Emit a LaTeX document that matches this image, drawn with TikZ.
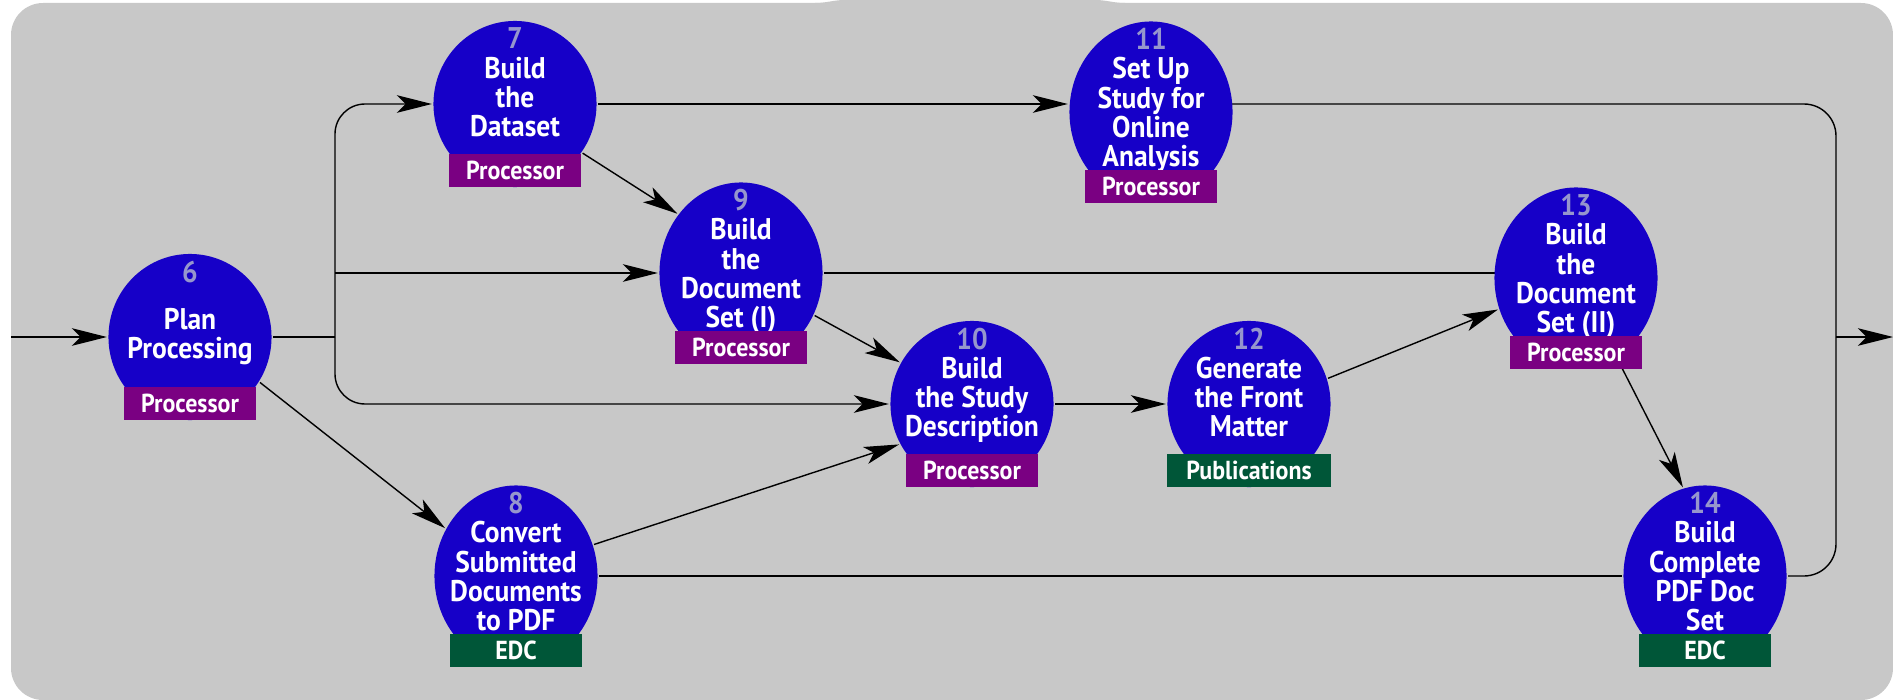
\documentclass[tikz,border=0pt]{standalone}
\usepackage{fontspec}
\newfontfamily\taskfont{PT Sans}[FakeStretch=0.92]
\usetikzlibrary{shapes.geometric,arrows.meta}

\definecolor{taskblue}{RGB}{22,0,200}
\definecolor{rolepurple}{RGB}{122,0,130}
\definecolor{rolegreen}{RGB}{0,86,56}
\definecolor{panelgrey}{RGB}{200,200,200}
\definecolor{numgrey}{RGB}{150,150,205}

\pgfdeclarelayer{background}
\pgfsetlayers{background,main}

\newcommand\stepnum[1]{{\color{numgrey}#1}}

\tikzset{
  task/.style={ellipse, fill=taskblue, inner sep=0pt, minimum width=1.63cm, minimum height=1.66cm},
  tasktall/.style={task, minimum height=1.81cm},
  tasktext/.style={anchor=north, yshift=-0.07cm, inner sep=0pt, align=center, text=white,
    font={\taskfont\bfseries\fontsize{8.5}{8.3}\selectfont}},
  role/.style={anchor=south, inner sep=1pt, minimum width=1.31cm, minimum height=0.33cm, text=white,
    font={\taskfont\bfseries\fontsize{7.4}{8}\selectfont}},
  proc/.style={role, fill=rolepurple},
  edc/.style={role, fill=rolegreen},
}

\begin{document}
\begin{tikzpicture}[x=0.01cm, y=-0.01cm, line width=0.85pt, >={Stealth[length=10pt,width=5pt,inset=2.5pt]}]
    \useasboundingbox (0,0) rectangle (1893,700);

    % steps
    \node[task] (plan) at (190,337) {};
    \node[tasktext] at (plan.north) {\stepnum{6}\\[5pt]Plan\\Processing};
    \node[proc] at (plan.south) {Processor};

    \node[task] (dataset) at (515,104) {};
    \node[tasktext] at (dataset.north) {\stepnum{7}\\Build\\the\\Dataset};
    \node[proc] at (dataset.south) {Processor};

    \node[tasktall] (convert) at (516,576) {};
    \node[tasktext] at (convert.north) {\stepnum{8}\\Convert\\Submitted\\Documents\\to PDF};
    \node[edc] at (convert.south) {EDC};

    \node[tasktall] (docsetA) at (741,273) {};
    \node[tasktext] at (docsetA.north) {\stepnum{9}\\Build\\the\\Document\\Set (I)};
    \node[proc] at (docsetA.south) {Processor};

    \node[task] (studydesc) at (972,404) {};
    \node[tasktext] at (studydesc.north) {\stepnum{10}\\Build\\the Study\\Description};
    \node[proc] at (studydesc.south) {Processor};

    \node[tasktall] (online) at (1151,112) {};
    \node[tasktext] at (online.north) {\stepnum{11}\\Set Up\\Study for\\Online\\Analysis};
    \node[proc] at (online.south) {Processor};

    \node[task] (frontmatter) at (1249,404) {};
    \node[tasktext] at (frontmatter.north) {\stepnum{12}\\Generate\\the Front\\Matter};
    \node[edc, minimum width=1.63cm] at (frontmatter.south) {Publications};

    \node[tasktall] (docsetB) at (1576,278) {};
    \node[tasktext] at (docsetB.north) {\stepnum{13}\\Build\\the\\Document\\Set (II)};
    \node[proc] at (docsetB.south) {Processor};

    \node[tasktall] (pdfset) at (1705,576) {};
    \node[tasktext] at (pdfset.north) {\stepnum{14}\\Build\\Complete\\PDF Doc\\Set};
    \node[edc] at (pdfset.south) {EDC};

    \coordinate (in) at (11,337);
    \coordinate (bus) at (335,337);
    \coordinate (merge) at (1836,337);
    \coordinate (out) at (1893,337);

    % panel and flow lines go behind the steps
    \begin{pgfonlayer}{background}
        \fill[panelgrey, rounded corners=0.32cm] (11,3) rectangle (1893,700);
        \fill[panelgrey] (815,3) to[out=0,in=180] (845,0) -- (1095,0) to[out=0,in=180] (1125,3) -- cycle;
        \draw[->] (in) -- (plan);
        \draw (plan) -- (bus);
        \draw[->, rounded corners=0.3cm] (bus) |- (dataset);
        \draw[->] (bus |- docsetA) -- (docsetA);
        \draw[->, rounded corners=0.3cm] (bus) |- (studydesc);
        \draw[->] (plan.-33) -- (convert.146);
        \draw[->] (dataset.-36) -- (docsetA.137);
        \draw[->] (dataset) -- (dataset -| online.west);
        \draw[->] (docsetA.-30) -- (studydesc.150);
        \draw (docsetA) -- (docsetA -| docsetB);
        \draw[->] (convert.22) -- (studydesc.209);
        \draw (convert) -- (pdfset);
        \draw[->] (studydesc) -- (frontmatter);
        \draw[->] (frontmatter.18) -- (docsetB.202);
        \draw[->] (docsetB) -- (pdfset.104);
        \draw[rounded corners=0.32cm] (online |- dataset) -| (merge);
        \draw[rounded corners=0.32cm] (pdfset) -| (merge);
        \draw[->] (merge) -- (out);
    \end{pgfonlayer}
\end{tikzpicture}
\end{document}
